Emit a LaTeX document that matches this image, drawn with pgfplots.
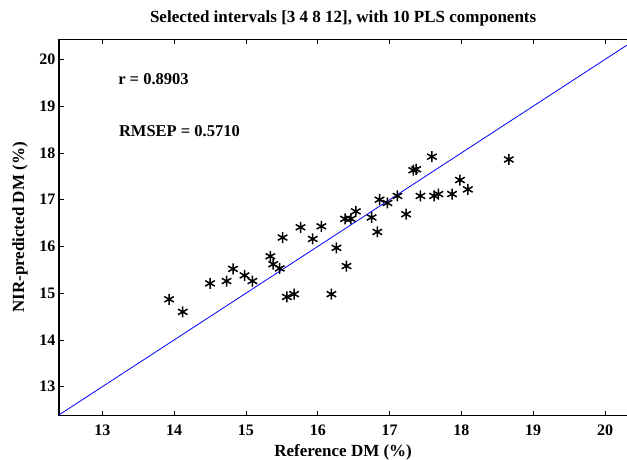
\documentclass[border=0pt]{standalone}
\usepackage{fontspec}
\setmainfont{Liberation Serif}
\usepackage{pgfplots}
\pgfplotsset{compat=1.18}

\begin{document}
\begin{tikzpicture}
\begin{axis}[
    scale only axis,
    width  = 568.3pt,
    height = 376.4pt,
    xmin=12.397, xmax=20.31,
    ymin=12.38,  ymax=20.43,
    xtick={13,14,...,20},
    ytick={13,14,...,20},
    axis x line*=box,
    axis y line*=left,
    axis line style={line width=1.2pt, -},
    tick align=inside,
    major tick length=5pt,
    tick style={line width=0.8pt, black},
    /pgf/number format/assume math mode=true,
    tick label style={font=\fontsize{16}{19}\selectfont\bfseries},
    xticklabel style={anchor=base, yshift=-20pt},
    title = {Selected intervals [3 4 8 12], with 10 PLS components},
    title style={at={(axis description cs:0.5,1.0292)}, anchor=base,
                 font=\fontsize{17}{20}\selectfont\bfseries},
    xlabel = {Reference DM (\%)},
    xlabel style={at={(axis description cs:0.5,-0.1089)}, anchor=base,
                  font=\fontsize{17}{20}\selectfont\bfseries},
    ylabel = {NIR-predicted DM (\%)},
    every axis y label/.style={at={(axis description cs:-0.0615,0.5)},
                  rotate=90, anchor=base,
                  font=\fontsize{17}{20}\selectfont\bfseries},
    clip=true,
]
% line y = x
\addplot[blue, line width=0.8pt] coordinates {(12.3,12.3)(20.6,20.6)};

% reference vs predicted
\addplot[only marks, mark=asterisk, mark size=5.5pt,
         mark options={line width=1.5pt, black}] coordinates {
    (13.93,14.87)(14.12,14.60)(14.50,15.21)(14.73,15.26)(14.82,15.52)
    (14.98,15.38)(15.09,15.26)(15.34,15.79)(15.38,15.62)(15.47,15.53)
    (15.51,16.19)(15.57,14.92)(15.67,14.98)(15.76,16.41)(15.93,16.16)
    (16.05,16.43)(16.19,14.98)(16.26,15.97)(16.40,15.58)(16.38,16.59)
    (16.46,16.59)(16.53,16.75)(16.75,16.62)(16.83,16.31)(16.86,17.00)
    (16.97,16.93)(17.11,17.08)(17.23,16.69)(17.33,17.63)(17.37,17.65)
    (17.59,17.92)(17.43,17.08)(17.62,17.08)(17.68,17.12)(17.87,17.12)
    (17.98,17.42)(18.09,17.22)(18.66,17.86)
};

\node[anchor=base west, inner sep=0pt, font=\fontsize{16.5}{19}\selectfont\bfseries]
    at (axis cs:13.22,19.47) {r = 0.8903};
\node[anchor=base west, inner sep=0pt, font=\fontsize{16.5}{19}\selectfont\bfseries]
    at (axis cs:13.23,18.36) {RMSEP = 0.5710};

\coordinate (SW) at (rel axis cs:0,0);
\end{axis}
\pgfresetboundingbox
\path[use as bounding box] (SW) ++(-59pt,-43.3pt) rectangle ++(627pt,459pt);
\end{tikzpicture}
\end{document}
